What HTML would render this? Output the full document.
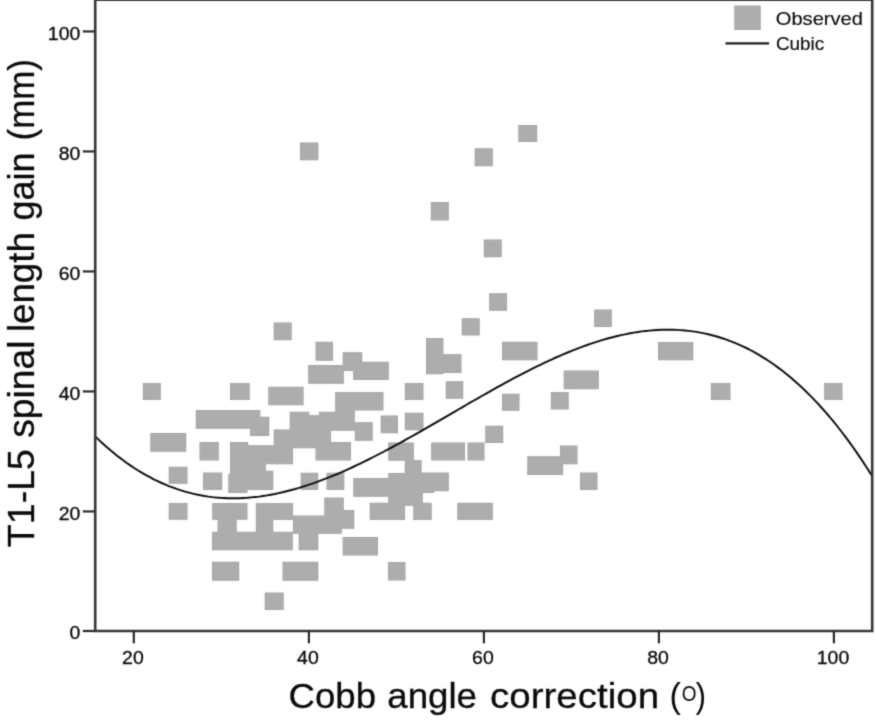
<!DOCTYPE html>
<html lang="en"><head><meta charset="utf-8"><title>Cubic fit: T1-L5 spinal length gain vs Cobb angle correction</title>
<style>html,body{margin:0;padding:0;background:#fff}body{width:876px;height:722px;overflow:hidden}svg{display:block}text{font-family:"Liberation Sans",Arial,Helvetica,sans-serif;fill:#0a0a0a;stroke:#0a0a0a;stroke-width:0.3px}</style></head><body>
<svg width="876" height="722" viewBox="0 0 876 722">
<defs><filter id="soft" filterUnits="userSpaceOnUse" x="0" y="0" width="876" height="722" color-interpolation-filters="sRGB"><feConvolveMatrix order="3" kernelMatrix="0.02560 0.10880 0.02560 0.10880 0.46240 0.10880 0.02560 0.10880 0.02560" divisor="1" edgeMode="duplicate" preserveAlpha="true"/></filter></defs>
<rect x="0" y="0" width="876" height="722" fill="#fff"/>
<g filter="url(#soft)">
<rect x="-10" y="-10" width="896" height="742" fill="#fff"/>
<path fill="#a0a0a0" fill-rule="evenodd" d="M842.50,400.00 L842.50,383.00 L824.20,383.00 L824.20,400.00ZM760.70,30.10 L760.70,5.50 L734.30,5.50 L734.30,30.10ZM730.50,400.00 L730.50,383.00 L710.80,383.00 L710.80,400.00ZM693.30,360.30 L693.30,342.00 L658.00,342.00 L658.00,360.30ZM594.20,327.00 L611.80,327.00 L611.80,309.50 L594.20,309.50ZM563.70,389.20 L598.80,389.20 L598.80,370.50 L563.70,370.50ZM597.50,490.00 L597.50,472.50 L580.00,472.50 L580.00,490.00ZM527.30,475.00 L563.20,475.00 L563.20,464.20 L577.50,464.20 L577.50,445.50 L560.00,445.50 L560.00,456.20 L527.30,456.20ZM550.80,409.50 L568.70,409.50 L568.70,392.00 L550.80,392.00ZM502.00,360.30 L537.50,360.30 L537.50,341.70 L502.00,341.70ZM518.30,142.00 L537.20,142.00 L537.20,125.00 L518.30,125.00ZM502.00,410.80 L519.50,410.80 L519.50,393.70 L502.00,393.70ZM507.00,310.80 L507.00,293.30 L489.20,293.30 L489.20,310.80ZM467.50,460.50 L484.50,460.50 L484.50,443.00 L503.20,443.00 L503.20,425.80 L485.30,425.80 L485.30,442.50 L467.50,442.50ZM501.70,257.20 L501.70,239.50 L483.80,239.50 L483.80,257.20ZM492.80,520.00 L492.80,502.80 L457.30,502.80 L457.30,520.00ZM474.70,166.30 L492.80,166.30 L492.80,148.30 L474.70,148.30ZM461.70,335.50 L479.70,335.50 L479.70,318.30 L461.70,318.30ZM465.00,460.50 L465.00,442.50 L431.20,442.50 L431.20,460.50ZM445.70,398.70 L463.20,398.70 L463.20,381.30 L445.70,381.30ZM443.40,354.20 L443.40,338.00 L426.00,338.00 L426.00,374.20 L443.40,374.20 L443.40,373.00 L461.50,373.00 L461.50,354.20ZM430.80,220.50 L448.80,220.50 L448.80,202.00 L430.80,202.00ZM388.30,478.00 L353.30,478.00 L353.30,496.70 L388.30,496.70 L388.30,502.80 L369.70,502.80 L369.70,520.00 L405.00,520.00 L405.00,505.80 L413.30,505.80 L413.30,520.00 L431.70,520.00 L431.70,502.80 L422.80,502.80 L422.80,493.00 L434.20,493.00 L434.20,491.30 L448.80,491.30 L448.80,472.50 L421.60,472.50 L421.60,460.00 L413.80,460.00 L413.80,442.50 L388.30,442.50 L388.30,460.80 L404.70,460.80 L404.70,473.00 L388.30,473.00ZM404.80,400.00 L423.50,400.00 L423.50,383.00 L404.80,383.00ZM404.80,430.30 L423.50,430.30 L423.50,412.80 L404.80,412.80ZM405.50,580.50 L405.50,562.00 L388.00,562.00 L388.00,580.50ZM380.70,433.20 L398.00,433.20 L398.00,415.50 L380.70,415.50ZM308.20,365.00 L308.20,383.70 L343.80,383.70 L343.80,371.00 L353.20,371.00 L353.20,380.00 L388.80,380.00 L388.80,361.70 L362.20,361.70 L362.20,352.20 L342.70,352.20 L342.70,365.00ZM248.10,445.30 L248.10,442.00 L230.00,442.00 L230.00,474.00 L228.30,474.00 L228.30,493.00 L247.50,493.00 L247.50,490.00 L273.30,490.00 L273.30,470.80 L265.80,470.80 L265.80,464.20 L293.00,464.20 L293.00,448.30 L315.50,448.30 L315.50,460.50 L351.00,460.50 L351.00,442.00 L331.00,442.00 L331.00,430.80 L354.80,430.80 L354.80,440.80 L372.70,440.80 L372.70,422.20 L354.80,422.20 L354.80,410.50 L383.50,410.50 L383.50,392.00 L335.20,392.00 L335.20,411.70 L319.00,411.70 L319.00,415.30 L309.30,415.30 L309.30,411.70 L289.70,411.70 L289.70,429.50 L273.70,429.50 L273.70,445.30ZM342.70,555.50 L378.00,555.50 L378.00,537.00 L342.70,537.00ZM212.20,519.70 L217.50,519.70 L217.50,531.70 L212.00,531.70 L212.00,550.30 L292.80,550.30 L292.80,533.80 L298.70,533.80 L298.70,550.30 L318.30,550.30 L318.30,533.80 L341.80,533.80 L341.80,528.70 L354.30,528.70 L354.30,510.00 L343.80,510.00 L343.80,497.50 L324.30,497.50 L324.30,515.50 L293.00,515.50 L293.00,503.00 L255.80,503.00 L255.80,531.70 L236.70,531.70 L236.70,519.70 L247.50,519.70 L247.50,503.00 L212.20,503.00ZM273.30,531.70 L273.30,520.00 L293.00,520.00 L293.00,531.70ZM344.30,490.00 L344.30,472.80 L326.50,472.80 L326.50,490.00ZM333.00,360.80 L333.00,341.70 L315.50,341.70 L315.50,360.80ZM300.00,160.20 L318.40,160.20 L318.40,142.60 L300.00,142.60ZM282.50,580.80 L318.30,580.80 L318.30,561.70 L282.50,561.70ZM318.20,490.00 L318.20,472.80 L300.70,472.80 L300.70,490.00ZM303.60,405.30 L303.60,386.70 L268.30,386.70 L268.30,405.30ZM273.70,340.20 L291.70,340.20 L291.70,322.50 L273.70,322.50ZM264.70,610.00 L283.70,610.00 L283.70,592.50 L264.70,592.50ZM250.00,428.70 L250.00,435.90 L269.30,435.90 L269.30,416.80 L260.30,416.80 L260.30,410.00 L195.80,410.00 L195.80,428.70ZM230.00,400.00 L249.70,400.00 L249.70,383.00 L230.00,383.00ZM239.20,580.80 L239.20,561.70 L212.00,561.70 L212.00,580.80ZM203.00,490.00 L222.20,490.00 L222.20,472.50 L203.00,472.50ZM218.80,460.50 L218.80,442.00 L199.50,442.00 L199.50,460.50ZM187.50,519.70 L187.50,503.00 L168.70,503.00 L168.70,519.70ZM187.50,483.80 L187.50,466.70 L168.70,466.70 L168.70,483.80ZM186.20,451.70 L186.20,433.00 L150.30,433.00 L150.30,451.70ZM142.80,400.00 L160.80,400.00 L160.80,383.00 L142.80,383.00Z"/>
<path fill="#adadad" fill-rule="evenodd" d="M841.95,399.45 L841.95,383.55 L824.75,383.55 L824.75,399.45ZM760.15,29.55 L760.15,6.05 L734.85,6.05 L734.85,29.55ZM729.95,399.45 L729.95,383.55 L711.35,383.55 L711.35,399.45ZM692.75,359.75 L692.75,342.55 L658.55,342.55 L658.55,359.75ZM594.75,326.45 L611.25,326.45 L611.25,310.05 L594.75,310.05ZM564.25,388.65 L598.25,388.65 L598.25,371.05 L564.25,371.05ZM596.95,489.45 L596.95,473.05 L580.55,473.05 L580.55,489.45ZM527.85,474.45 L562.65,474.45 L562.65,463.65 L576.95,463.65 L576.95,446.05 L560.55,446.05 L560.55,456.75 L527.85,456.75ZM551.35,408.95 L568.15,408.95 L568.15,392.55 L551.35,392.55ZM502.55,359.75 L536.95,359.75 L536.95,342.25 L502.55,342.25ZM518.85,141.45 L536.65,141.45 L536.65,125.55 L518.85,125.55ZM502.55,410.25 L518.95,410.25 L518.95,394.25 L502.55,394.25ZM506.45,310.25 L506.45,293.85 L489.75,293.85 L489.75,310.25ZM468.05,459.95 L483.95,459.95 L483.95,443.05 L468.05,443.05ZM485.85,442.45 L502.65,442.45 L502.65,426.35 L485.85,426.35ZM501.15,256.65 L501.15,240.05 L484.35,240.05 L484.35,256.65ZM492.25,519.45 L492.25,503.35 L457.85,503.35 L457.85,519.45ZM475.25,165.75 L492.25,165.75 L492.25,148.85 L475.25,148.85ZM462.25,334.95 L479.15,334.95 L479.15,318.85 L462.25,318.85ZM464.45,459.95 L464.45,443.05 L431.75,443.05 L431.75,459.95ZM446.25,398.15 L462.65,398.15 L462.65,381.85 L446.25,381.85ZM442.85,354.75 L442.85,338.55 L426.55,338.55 L426.55,373.65 L442.85,373.65 L442.85,372.45 L460.95,372.45 L460.95,354.75ZM431.35,219.95 L448.25,219.95 L448.25,202.55 L431.35,202.55ZM388.85,478.55 L353.85,478.55 L353.85,496.15 L388.85,496.15 L388.85,503.35 L370.25,503.35 L370.25,519.45 L404.45,519.45 L404.45,505.25 L413.85,505.25 L413.85,519.45 L431.15,519.45 L431.15,503.35 L422.25,503.35 L422.25,492.45 L433.65,492.45 L433.65,490.75 L448.25,490.75 L448.25,473.05 L421.05,473.05 L421.05,460.55 L413.25,460.55 L413.25,443.05 L388.85,443.05 L388.85,460.25 L405.25,460.25 L405.25,473.55 L388.85,473.55ZM405.35,429.75 L422.95,429.75 L422.95,413.35 L405.35,413.35ZM405.35,399.45 L422.95,399.45 L422.95,383.55 L405.35,383.55ZM404.95,579.95 L404.95,562.55 L388.55,562.55 L388.55,579.95ZM381.25,432.65 L397.45,432.65 L397.45,416.05 L381.25,416.05ZM308.75,365.55 L308.75,383.15 L343.25,383.15 L343.25,370.45 L353.75,370.45 L353.75,379.45 L388.25,379.45 L388.25,362.25 L361.65,362.25 L361.65,352.75 L343.25,352.75 L343.25,365.55ZM247.55,445.85 L247.55,442.55 L230.55,442.55 L230.55,474.55 L228.85,474.55 L228.85,492.45 L246.95,492.45 L246.95,489.45 L272.75,489.45 L272.75,471.35 L265.25,471.35 L265.25,463.65 L292.45,463.65 L292.45,447.75 L316.05,447.75 L316.05,459.95 L350.45,459.95 L350.45,442.55 L330.45,442.55 L330.45,430.25 L355.35,430.25 L355.35,440.25 L372.15,440.25 L372.15,422.75 L354.25,422.75 L354.25,409.95 L382.95,409.95 L382.95,392.55 L335.75,392.55 L335.75,412.25 L319.55,412.25 L319.55,415.85 L308.75,415.85 L308.75,412.25 L290.25,412.25 L290.25,430.05 L274.25,430.05 L274.25,445.85ZM343.25,554.95 L377.45,554.95 L377.45,537.55 L343.25,537.55ZM212.75,519.15 L218.05,519.15 L218.05,532.25 L212.55,532.25 L212.55,549.75 L292.25,549.75 L292.25,533.25 L299.25,533.25 L299.25,549.75 L317.75,549.75 L317.75,533.25 L341.25,533.25 L341.25,528.15 L353.75,528.15 L353.75,510.55 L343.25,510.55 L343.25,498.05 L324.85,498.05 L324.85,516.05 L292.45,516.05 L292.45,503.55 L256.35,503.55 L256.35,532.25 L236.15,532.25 L236.15,519.15 L246.95,519.15 L246.95,503.55 L212.75,503.55ZM272.75,532.25 L272.75,519.45 L293.55,519.45 L293.55,532.25ZM343.75,489.45 L343.75,473.35 L327.05,473.35 L327.05,489.45ZM332.45,360.25 L332.45,342.25 L316.05,342.25 L316.05,360.25ZM300.55,159.65 L317.85,159.65 L317.85,143.15 L300.55,143.15ZM283.05,580.25 L317.75,580.25 L317.75,562.25 L283.05,562.25ZM317.65,489.45 L317.65,473.35 L301.25,473.35 L301.25,489.45ZM303.05,404.75 L303.05,387.25 L268.85,387.25 L268.85,404.75ZM274.25,339.65 L291.15,339.65 L291.15,323.05 L274.25,323.05ZM265.25,609.45 L283.15,609.45 L283.15,593.05 L265.25,593.05ZM250.55,428.15 L250.55,435.35 L268.75,435.35 L268.75,417.35 L259.75,417.35 L259.75,410.55 L196.35,410.55 L196.35,428.15ZM230.55,399.45 L249.15,399.45 L249.15,383.55 L230.55,383.55ZM238.65,580.25 L238.65,562.25 L212.55,562.25 L212.55,580.25ZM203.55,489.45 L221.65,489.45 L221.65,473.05 L203.55,473.05ZM218.25,459.95 L218.25,442.55 L200.05,442.55 L200.05,459.95ZM186.95,519.15 L186.95,503.55 L169.25,503.55 L169.25,519.15ZM186.95,483.25 L186.95,467.25 L169.25,467.25 L169.25,483.25ZM185.65,451.15 L185.65,433.55 L150.85,433.55 L150.85,451.15ZM143.35,399.45 L160.25,399.45 L160.25,383.55 L143.35,383.55Z"/>
<path d="M95.2,436.4 L99.1,440.1 L103.0,443.7 L106.9,447.2 L110.8,450.6 L114.7,453.8 L118.6,456.9 L122.5,459.8 L126.4,462.7 L130.3,465.4 L134.2,468.0 L138.1,470.5 L142.1,472.9 L146.0,475.1 L149.9,477.2 L153.8,479.3 L157.7,481.2 L161.6,483.0 L165.5,484.7 L169.4,486.3 L173.3,487.7 L177.2,489.1 L181.1,490.4 L185.0,491.6 L188.9,492.6 L192.8,493.6 L196.7,494.5 L200.6,495.3 L204.5,496.0 L208.4,496.6 L212.3,497.1 L216.2,497.5 L220.1,497.8 L224.0,498.0 L228.0,498.2 L231.9,498.3 L235.8,498.3 L239.7,498.2 L243.6,498.0 L247.5,497.8 L251.4,497.4 L255.3,497.0 L259.2,496.6 L263.1,496.0 L267.0,495.4 L270.9,494.7 L274.8,494.0 L278.7,493.1 L282.6,492.3 L286.5,491.3 L290.4,490.3 L294.3,489.3 L298.2,488.1 L302.1,486.9 L306.0,485.7 L309.9,484.4 L313.9,483.1 L317.8,481.7 L321.7,480.2 L325.6,478.7 L329.5,477.2 L333.4,475.6 L337.3,474.0 L341.2,472.3 L345.1,470.6 L349.0,468.8 L352.9,467.0 L356.8,465.2 L360.7,463.3 L364.6,461.4 L368.5,459.5 L372.4,457.5 L376.3,455.5 L380.2,453.5 L384.1,451.5 L388.0,449.4 L391.9,447.3 L395.8,445.2 L399.8,443.1 L403.7,440.9 L407.6,438.7 L411.5,436.5 L415.4,434.3 L419.3,432.1 L423.2,429.9 L427.1,427.7 L431.0,425.4 L434.9,423.1 L438.8,420.9 L442.7,418.6 L446.6,416.3 L450.5,414.1 L454.4,411.8 L458.3,409.5 L462.2,407.3 L466.1,405.0 L470.0,402.7 L473.9,400.5 L477.8,398.3 L481.7,396.0 L485.7,393.8 L489.6,391.6 L493.5,389.4 L497.4,387.2 L501.3,385.1 L505.2,382.9 L509.1,380.8 L513.0,378.7 L516.9,376.6 L520.8,374.6 L524.7,372.6 L528.6,370.6 L532.5,368.6 L536.4,366.7 L540.3,364.8 L544.2,362.9 L548.1,361.1 L552.0,359.3 L555.9,357.5 L559.8,355.8 L563.7,354.1 L567.6,352.5 L571.6,350.9 L575.5,349.4 L579.4,347.9 L583.3,346.4 L587.2,345.0 L591.1,343.7 L595.0,342.4 L598.9,341.1 L602.8,339.9 L606.7,338.8 L610.6,337.7 L614.5,336.7 L618.4,335.8 L622.3,334.9 L626.2,334.1 L630.1,333.3 L634.0,332.6 L637.9,332.0 L641.8,331.4 L645.7,331.0 L649.6,330.6 L653.5,330.2 L657.5,330.0 L661.4,329.8 L665.3,329.7 L669.2,329.7 L673.1,329.7 L677.0,329.9 L680.9,330.1 L684.8,330.5 L688.7,330.9 L692.6,331.4 L696.5,331.9 L700.4,332.6 L704.3,333.4 L708.2,334.3 L712.1,335.2 L716.0,336.3 L719.9,337.5 L723.8,338.7 L727.7,340.1 L731.6,341.6 L735.5,343.1 L739.4,344.8 L743.4,346.6 L747.3,348.5 L751.2,350.5 L755.1,352.7 L759.0,354.9 L762.9,357.3 L766.8,359.7 L770.7,362.3 L774.6,365.0 L778.5,367.9 L782.4,370.8 L786.3,373.9 L790.2,377.1 L794.1,380.5 L798.0,383.9 L801.9,387.5 L805.8,391.2 L809.7,395.1 L813.6,399.1 L817.5,403.2 L821.4,407.5 L825.3,411.9 L829.3,416.5 L833.2,421.2 L837.1,426.0 L841.0,431.0 L844.9,436.1 L848.8,441.4 L852.7,446.8 L856.6,452.4 L860.5,458.1 L864.4,464.0 L868.3,470.0 L872.2,476.2" fill="none" stroke="#0c0c0c" stroke-width="1.95" stroke-linejoin="round"/>
<g stroke="#363636" stroke-width="2.6" fill="none">
<path d="M95.2,-4 V631 H872.2 V-4"/>
<path d="M94.2,0 H873.2" stroke-width="2.2"/>
</g>
<g stroke="#282828" stroke-width="2.2">
<path d="M82.8,631.00 H95.2"/>
<path d="M82.8,511.45 H95.2"/>
<path d="M82.8,391.45 H95.2"/>
<path d="M82.8,271.45 H95.2"/>
<path d="M82.8,151.45 H95.2"/>
<path d="M82.8,31.45 H95.2"/>
<path d="M133.8,631 V643.3"/>
<path d="M308.9,631 V643.3"/>
<path d="M483.9,631 V643.3"/>
<path d="M658.9,631 V643.3"/>
<path d="M833.9,631 V643.3"/>
</g>
<g font-size="18.9" style="stroke-width:0.15px">
<text transform="translate(80.3,639.4) scale(1.03,1)" text-anchor="end">0</text>
<text transform="translate(80.3,519.6) scale(1.03,1)" text-anchor="end">20</text>
<text transform="translate(80.3,399.6) scale(1.03,1)" text-anchor="end">40</text>
<text transform="translate(80.3,279.6) scale(1.03,1)" text-anchor="end">60</text>
<text transform="translate(80.3,159.6) scale(1.03,1)" text-anchor="end">80</text>
<text transform="translate(80.3,39.6) scale(1.03,1)" text-anchor="end">100</text>
<text transform="translate(132.9,663.7) scale(1.03,1)" text-anchor="middle">20</text>
<text transform="translate(307.9,663.7) scale(1.03,1)" text-anchor="middle">40</text>
<text transform="translate(482.9,663.7) scale(1.03,1)" text-anchor="middle">60</text>
<text transform="translate(658.0,663.7) scale(1.03,1)" text-anchor="middle">80</text>
<text transform="translate(833.0,663.7) scale(1.03,1)" text-anchor="middle">100</text>
</g>
<path d="M725.5,43.4 H769" stroke="#1c1c1c" stroke-width="2.4"/>
<text x="775.80" y="25.0" font-size="18.4" textLength="87.13" lengthAdjust="spacingAndGlyphs" style="stroke-width:0.15px">Observed</text>
<text x="775.96" y="50.0" font-size="18.4" textLength="48.22" lengthAdjust="spacingAndGlyphs" style="stroke-width:0.15px">Cubic</text>
<text x="288.52" y="707.9" font-size="35.6" textLength="87.50" lengthAdjust="spacingAndGlyphs">Cobb</text>
<text x="387.33" y="707.9" font-size="35.6" textLength="89.69" lengthAdjust="spacingAndGlyphs">angle</text>
<text x="490.06" y="707.9" font-size="35.6" textLength="169.00" lengthAdjust="spacingAndGlyphs">correction</text>
<text x="669.56" y="707.9" font-size="35.6" textLength="11.35" lengthAdjust="spacingAndGlyphs" style="stroke-width:0">(</text>
<text x="695.80" y="707.9" font-size="35.6" textLength="10.23" lengthAdjust="spacingAndGlyphs" style="stroke-width:0">)</text>
<text x="681.84" y="700.9" font-size="22.3" textLength="14.77" lengthAdjust="spacingAndGlyphs" style="stroke-width:0">O</text>
<text transform="translate(33.9,547.15) rotate(-90)" font-size="36" textLength="98.01" lengthAdjust="spacingAndGlyphs">T1-L5</text>
<text transform="translate(33.9,437.84) rotate(-90)" font-size="36" textLength="97.26" lengthAdjust="spacingAndGlyphs">spinal</text>
<text transform="translate(33.9,332.10) rotate(-90)" font-size="36" textLength="99.96" lengthAdjust="spacingAndGlyphs">length</text>
<text transform="translate(33.9,220.44) rotate(-90)" font-size="36" textLength="67.96" lengthAdjust="spacingAndGlyphs">gain</text>
<text transform="translate(33.9,140.50) rotate(-90)" font-size="36" textLength="81.45" lengthAdjust="spacingAndGlyphs">(mm)</text>
</g>
</svg></body></html>
